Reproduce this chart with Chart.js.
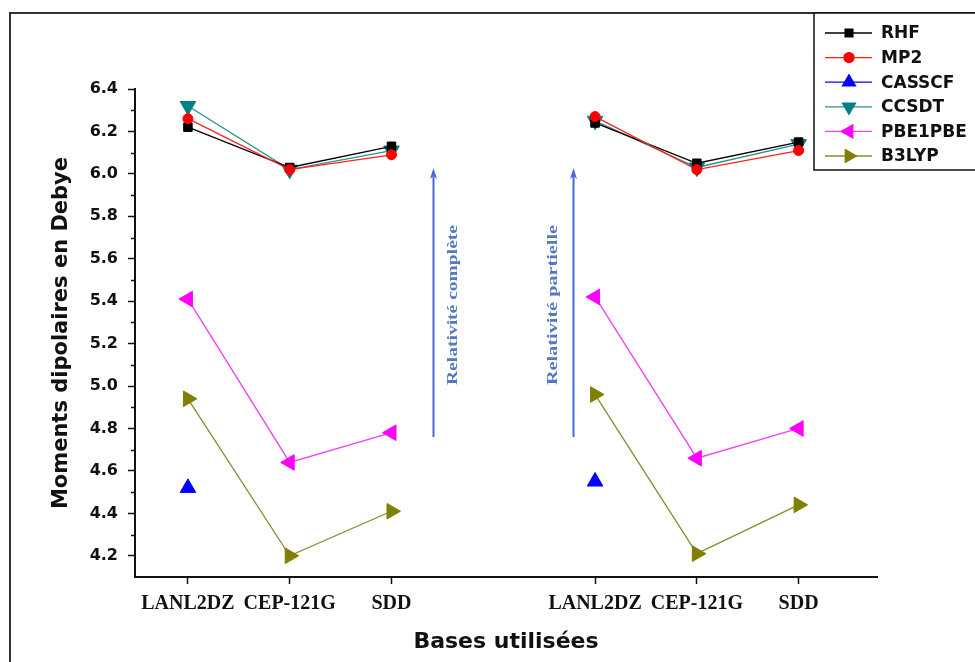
<!DOCTYPE html>
<html><head><meta charset="utf-8">
<script src="https://cdn.jsdelivr.net/npm/chart.js@4.4.0/dist/chart.umd.min.js"></script>
<style>html,body{margin:0;padding:0;background:#fff;}</style>
</head><body>
<canvas id="c" width="975" height="662"></canvas>
<script>
// ---- data ----
const categories = ['LANL2DZ', 'CEP-121G', 'SDD'];
const groups = ['Relativité complète', 'Relativité partielle'];
const xPositions = [1, 2, 3, 5, 6, 7];
const tickLabels = ['LANL2DZ', 'CEP-121G', 'SDD', 'LANL2DZ', 'CEP-121G', 'SDD'];
const yTicks = [4.2, 4.4, 4.6, 4.8, 5.0, 5.2, 5.4, 5.6, 5.8, 6.0, 6.2, 6.4];
const yMinorTicks = [4.3, 4.5, 4.7, 4.9, 5.1, 5.3, 5.5, 5.7, 5.9, 6.1, 6.3];

const seriesNames = ['RHF', 'MP2', 'CASSCF', 'CCSDT', 'PBE1PBE', 'B3LYP'];
const rhfComplete = [6.22, 6.03, 6.13];
const rhfPartial = [6.24, 6.05, 6.15];
const mp2Complete = [6.26, 6.02, 6.09];
const mp2Partial = [6.27, 6.02, 6.11];
const casscfComplete = [4.52, null, null];
const casscfPartial = [4.55, null, null];
const ccsdtComplete = [6.32, 6.02, 6.11];
const ccsdtPartial = [6.25, 6.03, 6.14];
const pbeComplete = [5.41, 4.64, 4.78];
const pbePartial = [5.42, 4.66, 4.80];
const b3lypComplete = [4.94, 4.20, 4.41];
const b3lypPartial = [4.96, 4.21, 4.44];

// ---- styles ----
const styles = {
  RHF:     {color: '#000000', line: '#000000', pointStyle: 'rect', rotation: 0, radius: 6},
  MP2:     {color: '#ff0000', line: '#ff2020', pointStyle: 'circle', rotation: 0, radius: 5},
  CASSCF:  {color: '#0000ff', line: '#0000ff', pointStyle: 'triangle', rotation: 0, radius: 9},
  CCSDT:   {color: '#008080', line: '#2a9090', pointStyle: 'triangle', rotation: 180, radius: 9},
  PBE1PBE: {color: '#ff00ff', line: '#f040f0', pointStyle: 'triangle', rotation: 270, radius: 9},
  B3LYP:   {color: '#808000', line: '#8a8a30', pointStyle: 'triangle', rotation: 90, radius: 9}
};
const seriesData = {
  RHF: [rhfComplete, rhfPartial],
  MP2: [mp2Complete, mp2Partial],
  CASSCF: [casscfComplete, casscfPartial],
  CCSDT: [ccsdtComplete, ccsdtPartial],
  PBE1PBE: [pbeComplete, pbePartial],
  B3LYP: [b3lypComplete, b3lypPartial]
};

function buildPoints(name) {
  const [a, b] = seriesData[name];
  const vals = a.concat(b);
  const pts = [];
  vals.forEach((v, i) => {
    if (i === a.length) pts.push({x: (xPositions[i - 1] + xPositions[i]) / 2, y: null}); // gap between groups
    pts.push({x: xPositions[i], y: v});
  });
  return pts;
}

const drawOrder = ['PBE1PBE', 'B3LYP', 'CASSCF', 'MP2', 'RHF', 'CCSDT'];
const datasets = drawOrder.map(name => {
  const s = styles[name];
  return {
    label: name,
    data: buildPoints(name),
    borderColor: s.line,
    backgroundColor: s.color,
    borderWidth: 1.3,
    pointStyle: s.pointStyle,
    pointRotation: s.rotation,
    pointRadius: s.radius,
    pointBackgroundColor: s.color,
    pointBorderColor: s.color,
    pointBorderWidth: 1,
    spanGaps: false,
    tension: 0
  };
});

const SANS = 'DejaVu Sans';
const SERIF = 'Liberation Serif';

const decorPlugin = {
  id: 'decor',
  beforeDraw(chart) {
    const ctx = chart.ctx;
    ctx.save();
    ctx.fillStyle = '#ffffff';
    ctx.fillRect(0, 0, chart.width, chart.height);
    ctx.strokeStyle = '#333333';
    ctx.lineWidth = 2;
    ctx.beginPath();
    ctx.moveTo(10, chart.height + 2);
    ctx.lineTo(10, 13);
    ctx.lineTo(chart.width + 2, 13);
    ctx.stroke();
    ctx.restore();
  },
  afterDraw(chart) {
    const ctx = chart.ctx;
    const xs = chart.scales.x, ys = chart.scales.y;
    ctx.save();
    // minor ticks on y
    ctx.strokeStyle = '#111';
    ctx.lineWidth = 1.5;
    yMinorTicks.forEach(v => {
      const py = Math.round(ys.getPixelForValue(v)) + 0.5;
      ctx.beginPath();
      ctx.moveTo(xs.left - 4, py);
      ctx.lineTo(xs.left, py);
      ctx.stroke();
    });
    // arrows with labels
    const arrows = [
      {x: 3.407, y0: 4.76, y1: 6.028, text: groups[0], dx: 20},
      {x: 4.78, y0: 4.76, y1: 6.028, text: groups[1], dx: -20}
    ];
    arrows.forEach(a => {
      const px = Math.round(xs.getPixelForValue(a.x)) + 0.5;
      const pb = ys.getPixelForValue(a.y0), pt = ys.getPixelForValue(a.y1);
      ctx.strokeStyle = '#4a68d6';
      ctx.fillStyle = '#4a68d6';
      ctx.lineWidth = 2;
      ctx.beginPath();
      ctx.moveTo(px, pb);
      ctx.lineTo(px, pt + 4);
      ctx.stroke();
      ctx.beginPath();
      ctx.moveTo(px, pt);
      ctx.lineTo(px - 3.5, pt + 11);
      ctx.lineTo(px, pt + 8);
      ctx.lineTo(px + 3.5, pt + 11);
      ctx.closePath();
      ctx.fill();
      // rotated label
      const cy = ys.getPixelForValue(5.382);
      ctx.save();
      ctx.translate(px + a.dx, cy);
      ctx.rotate(-Math.PI / 2);
      ctx.font = 'bold 15px "' + SERIF + '"';
      const w = ctx.measureText(a.text).width;
      const target = 160;
      ctx.scale(target / w, 1);
      ctx.fillStyle = '#5578c0';
      ctx.textAlign = 'center';
      ctx.textBaseline = 'middle';
      ctx.fillText(a.text, 0, 0);
      ctx.restore();
    });
    // legend box
    const lx = 814, ly = 13, lh = 157;
    ctx.fillStyle = '#ffffff';
    ctx.fillRect(lx, ly, chart.width - lx + 5, lh);
    ctx.strokeStyle = '#111';
    ctx.lineWidth = 1.5;
    ctx.strokeRect(lx, ly, chart.width - lx + 5, lh);
    seriesNames.forEach((name, i) => {
      const s = styles[name];
      const cy = 33 + i * 24.6;
      ctx.strokeStyle = s.line;
      ctx.lineWidth = 1.3;
      ctx.beginPath();
      ctx.moveTo(825, cy);
      ctx.lineTo(872, cy);
      ctx.stroke();
      ctx.fillStyle = s.color;
      ctx.strokeStyle = s.color;
      Chart.helpers.drawPoint(ctx, {
        pointStyle: s.pointStyle,
        rotation: s.rotation,
        radius: s.pointStyle === 'triangle' ? 7.5 : (s.pointStyle === 'rect' ? 5.5 : 5),
        borderWidth: 1
      }, 849, cy);
      ctx.fillStyle = '#111';
      ctx.font = 'bold 17px "' + SANS + '"';
      ctx.textAlign = 'left';
      ctx.textBaseline = 'middle';
      ctx.fillText(name, 881, cy + 1);
    });
    ctx.restore();
  }
};

new Chart(document.getElementById('c'), {
  type: 'line',
  data: {datasets},
  options: {
    responsive: false,
    animation: false,
    layout: {padding: {left: 0, top: 89, right: 98, bottom: 0}},
    plugins: {legend: {display: false}, tooltip: {enabled: false}},
    scales: {
      x: {
        type: 'linear',
        min: 0.48,
        max: 7.77,
        afterBuildTicks: s => { s.ticks = xPositions.map(v => ({value: v})); },
        afterFit: s => { s.height = 85; },
        ticks: {
          autoSkip: false,
          maxRotation: 0,
          padding: 8,
          color: '#111',
          font: {family: SERIF, size: 20, weight: 'bold'},
          callback: (v, i) => tickLabels[i]
        },
        grid: {display: true, drawOnChartArea: false, drawTicks: true, tickLength: 7, tickColor: '#111', tickWidth: 1.5},
        border: {display: true, color: '#111', width: 2},
        title: {display: true, text: 'Bases utilisées', color: '#111',
                font: {family: SANS, size: 22, weight: 'bold'}, padding: {top: 0, bottom: 7}}
      },
      y: {
        type: 'linear',
        min: 4.1,
        max: 6.4,
        afterBuildTicks: s => { s.ticks = yTicks.map(v => ({value: v})); },
        afterFit: s => { s.width = 135; },
        ticks: {
          padding: 10,
          color: '#111',
          font: {family: SANS, size: 16, weight: 'bold'},
          callback: v => Number(v).toFixed(1)
        },
        grid: {display: true, drawOnChartArea: false, drawTicks: true, tickLength: 7, tickColor: '#111', tickWidth: 1.5},
        border: {display: true, color: '#111', width: 2},
        title: {display: true, text: 'Moments dipolaires en Debye', color: '#111',
                font: {family: SANS, size: 21, weight: 'bold'}, padding: {top: 49, bottom: 0}}
      }
    }
  },
  plugins: [decorPlugin]
});
</script>
</body></html>
